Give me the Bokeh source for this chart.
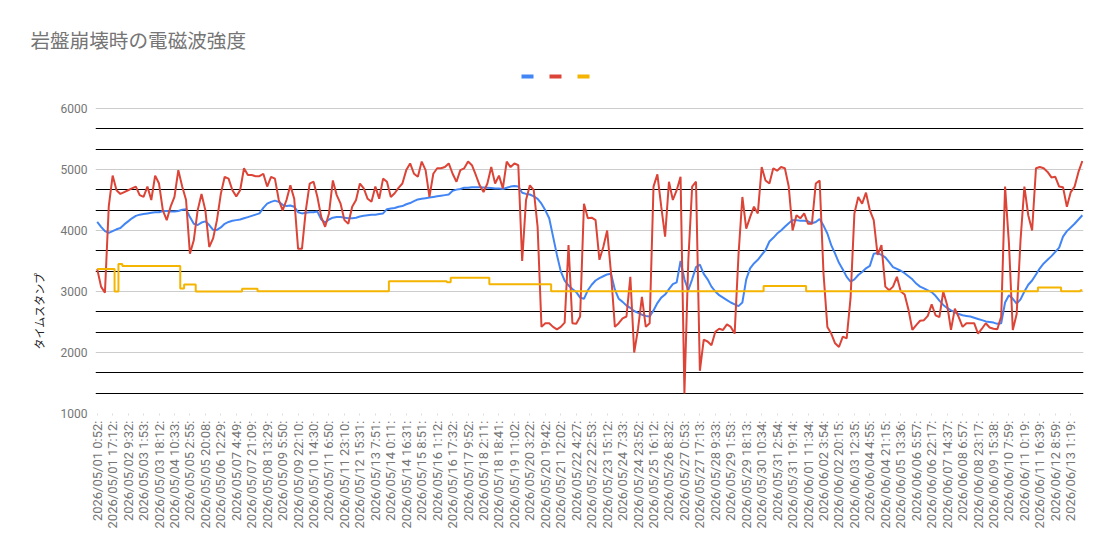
from math import pi
from bokeh.plotting import figure
from bokeh.models import Range1d, FixedTicker, Title
from bokeh.embed import file_html
from bokeh.resources import INLINE

title_text = "岩盤崩壊時の電磁波強度"
y_label_text = "タイムスタンプ"

tick_labels = [
    "2026/05/01 0:52:", "2026/05/01 17:12:", "2026/05/02 9:32:", "2026/05/03 1:53:",
    "2026/05/03 18:12:", "2026/05/04 10:33:", "2026/05/05 2:55:", "2026/05/05 20:08:",
    "2026/05/06 12:29:", "2026/05/07 4:49:", "2026/05/07 21:09:", "2026/05/08 13:29:",
    "2026/05/09 5:50:", "2026/05/09 22:10:", "2026/05/10 14:30:", "2026/05/11 6:50:",
    "2026/05/11 23:10:", "2026/05/12 15:31:", "2026/05/13 7:51:", "2026/05/14 0:11:",
    "2026/05/14 16:31:", "2026/05/15 8:51:", "2026/05/16 1:12:", "2026/05/16 17:32:",
    "2026/05/17 9:52:", "2026/05/18 2:11:", "2026/05/18 18:41:", "2026/05/19 11:02:",
    "2026/05/20 3:22:", "2026/05/20 19:42:", "2026/05/21 12:02:", "2026/05/22 4:27:",
    "2026/05/22 22:53:", "2026/05/23 15:12:", "2026/05/24 7:33:", "2026/05/24 23:52:",
    "2026/05/25 16:12:", "2026/05/26 8:32:", "2026/05/27 0:53:", "2026/05/27 17:13:",
    "2026/05/28 9:33:", "2026/05/29 1:53:", "2026/05/29 18:13:", "2026/05/30 10:34:",
    "2026/05/31 2:54:", "2026/05/31 19:14:", "2026/06/01 11:34:", "2026/06/02 3:54:",
    "2026/06/02 20:15:", "2026/06/03 12:35:", "2026/06/04 4:55:", "2026/06/04 21:15:",
    "2026/06/05 13:36:", "2026/06/06 5:57:", "2026/06/06 22:17:", "2026/06/07 14:37:",
    "2026/06/08 6:57:", "2026/06/08 23:17:", "2026/06/09 15:38:", "2026/06/10 7:59:",
    "2026/06/11 0:19:", "2026/06/11 16:39:", "2026/06/12 8:59:", "2026/06/13 1:19:",
]
samples_per_label = 4

blue_vals = [
    4140, 4060, 3990, 3960, 3990, 4020, 4040, 4100, 4150, 4200, 4240, 4260, 4270, 4280, 4290, 4300,
    4300, 4320, 4320, 4310, 4310, 4320, 4340, 4350, 4220, 4110, 4090, 4130, 4150, 4090, 4010, 4010,
    4050, 4110, 4140, 4160, 4170, 4180, 4200, 4220, 4240, 4260, 4280, 4370, 4440, 4470, 4490, 4470,
    4420, 4400, 4410, 4390, 4300, 4280, 4290, 4300, 4300, 4310, 4180, 4130, 4180, 4210, 4220, 4220,
    4210, 4200, 4200, 4210, 4230, 4240, 4250, 4260, 4260, 4270, 4280, 4350, 4360, 4370, 4390, 4400,
    4430, 4450, 4480, 4510, 4520, 4530, 4540, 4550, 4560, 4570, 4580, 4590, 4650, 4670, 4680, 4700,
    4700, 4710, 4710, 4710, 4705, 4700, 4695, 4690, 4690, 4680, 4700, 4720, 4730, 4720, 4620, 4600,
    4590, 4560, 4520, 4440, 4330, 4200, 3900, 3600, 3330, 3180, 3100, 3040, 2990, 2900, 2880, 3020,
    3110, 3180, 3220, 3250, 3280, 3290, 3030, 2880, 2830, 2770, 2730, 2680, 2650, 2620, 2600, 2590,
    2690, 2810, 2900, 2950, 3040, 3120, 3150, 3500, 3200, 3020, 3200, 3400, 3440, 3290, 3200, 3080,
    3000, 2940, 2900, 2860, 2820, 2790, 2760, 2820, 3200, 3380, 3460, 3520, 3600, 3680, 3820, 3880,
    3950, 4000, 4060, 4120, 4170, 4170, 4160, 4160, 4150, 4120, 4140, 4190, 4080, 3950, 3760, 3620,
    3470, 3360, 3240, 3160, 3200, 3270, 3320, 3380, 3420, 3620, 3630, 3600, 3560, 3480, 3400, 3370,
    3340, 3300, 3250, 3200, 3130, 3080, 3050, 3020, 2990, 2930, 2850, 2780, 2730, 2690, 2660, 2630,
    2610, 2600, 2590, 2570, 2550, 2530, 2510, 2500, 2490, 2470, 2480, 2820, 2940, 2880, 2800, 2870,
    3000, 3110, 3180, 3280, 3380, 3460, 3520, 3580, 3650, 3720, 3900, 3990, 4050, 4110, 4180, 4250,
]

red_vals = [
    3370, 3080, 2980, 4400, 4900, 4660, 4600, 4630, 4660, 4690, 4720, 4580, 4550, 4720, 4500, 4900,
    4770, 4330, 4170, 4390, 4550, 4990, 4720, 4500, 3620, 3840, 4330, 4600, 4330, 3730, 3870, 4170,
    4600, 4880, 4850, 4660, 4560, 4660, 5020, 4910, 4910, 4890, 4890, 4930, 4720, 4880, 4850, 4500,
    4330, 4500, 4740, 4520, 3700, 3700, 4330, 4770, 4800, 4550, 4220, 4060, 4280, 4820, 4580, 4440,
    4170, 4110, 4390, 4500, 4770, 4690, 4520, 4470, 4720, 4520, 4850, 4800, 4550, 4610, 4700, 4770,
    4990, 5100, 4930, 4880, 5130, 4990, 4550, 4930, 5020, 5020, 5040, 5100, 4930, 4800, 4990, 5020,
    5130, 5070, 4910, 4740, 4630, 4770, 5040, 4770, 4900, 4690, 5130, 5040, 5100, 5070, 3500, 4500,
    4740, 4660, 4060, 2420, 2480, 2480, 2420, 2380, 2420, 2490, 3760, 2480, 2470, 2590, 4440, 4200,
    4210, 4170, 3520, 3730, 4000, 3300, 2420, 2480, 2560, 2590, 3240, 2000, 2390, 2910, 2420, 2480,
    4720, 4920, 4390, 3900, 4800, 4500, 4660, 4880, 1330, 3500, 4720, 4800, 1700, 2210, 2180, 2120,
    2340, 2390, 2370, 2460, 2420, 2310, 3600, 4550, 4030, 4220, 4390, 4280, 5040, 4820, 4770, 5020,
    4980, 5040, 5020, 4720, 4000, 4250, 4200, 4280, 4110, 4110, 4770, 4820, 3300, 2420, 2310, 2150,
    2090, 2260, 2230, 2890, 4280, 4550, 4440, 4620, 4330, 4170, 3600, 3760, 3080, 3020, 3080, 3240,
    3000, 2950, 2700, 2370, 2450, 2520, 2530, 2600, 2790, 2610, 2580, 3000, 2780, 2370, 2720, 2580,
    2420, 2480, 2480, 2480, 2310, 2390, 2480, 2410, 2390, 2380, 2590, 4720, 3790, 2370, 2630, 3840,
    4720, 4250, 4000, 5020, 5040, 5020, 4960, 4870, 4880, 4720, 4710, 4390, 4630, 4720, 4960, 5140,
]

yellow_vals = [
    3367, 3367, 3367, 3367, 3367, 3000, 3450, 3420, 3420, 3420, 3420, 3420, 3420, 3420, 3420, 3420,
    3420, 3420, 3420, 3420, 3420, 3420, 3050, 3115, 3115, 3115, 3000, 3000, 3000, 3000, 3000, 3000,
    3000, 3000, 3000, 3000, 3000, 3000, 3045, 3045, 3045, 3045, 3005, 3005, 3005, 3005, 3005, 3005,
    3005, 3005, 3005, 3005, 3005, 3005, 3005, 3005, 3005, 3005, 3005, 3005, 3005, 3005, 3005, 3005,
    3005, 3005, 3005, 3005, 3005, 3005, 3005, 3005, 3005, 3005, 3005, 3005, 3170, 3170, 3170, 3170,
    3170, 3170, 3170, 3170, 3170, 3170, 3170, 3170, 3170, 3170, 3170, 3150, 3225, 3225, 3225, 3225,
    3225, 3225, 3225, 3225, 3225, 3225, 3120, 3120, 3120, 3120, 3120, 3120, 3120, 3120, 3120, 3120,
    3120, 3120, 3120, 3120, 3120, 3120, 3005, 3005, 3005, 3005, 3005, 3005, 3005, 3005, 3005, 3005,
    3005, 3005, 3005, 3005, 3005, 3005, 3005, 3005, 3005, 3005, 3005, 3005, 3005, 3005, 3005, 3005,
    3005, 3005, 3005, 3005, 3005, 3005, 3005, 3005, 3005, 3005, 3005, 3005, 3005, 3005, 3005, 3005,
    3005, 3005, 3005, 3005, 3005, 3005, 3005, 3005, 3005, 3005, 3005, 3005, 3005, 3090, 3090, 3090,
    3090, 3090, 3090, 3090, 3090, 3090, 3090, 3090, 3005, 3005, 3005, 3005, 3005, 3005, 3005, 3005,
    3005, 3005, 3005, 3005, 3005, 3005, 3005, 3005, 3005, 3005, 3005, 3005, 3005, 3005, 3005, 3005,
    3005, 3005, 3005, 3005, 3005, 3005, 3005, 3005, 3005, 3005, 3005, 3005, 3005, 3005, 3005, 3005,
    3005, 3005, 3005, 3005, 3005, 3005, 3005, 3005, 3005, 3005, 3005, 3005, 3005, 3005, 3005, 3005,
    3005, 3005, 3005, 3005, 3065, 3065, 3065, 3065, 3065, 3065, 3005, 3005, 3005, 3005, 3005, 3020,
]

y_major = [1000, 2000, 3000, 4000, 5000, 6000]
y_minor = [1333.33, 1666.67, 2333.33, 2666.67, 3333.33, 3666.67,
           4333.33, 4666.67, 5333.33, 5666.67]

BLUE, RED, YELLOW = "#4285F4", "#DB4437", "#F4B400"
series_colors = [BLUE, RED, YELLOW]
GRAY_TXT = "#757575"
JP_FONT = "Noto Sans CJK JP"

n = len(red_vals)
xs = list(range(n))

# layout (screen pixels): frame x 95..1083, y 60..413; 6000 sits at y=108,
# the strip above it holds the (label-less) legend keys
FRAME_LEFT, FRAME_RIGHT = 95, 1083
FRAME_TOP, FRAME_BOTTOM, Y6000 = 60, 413, 108
X_START, X_END = -0.44, 255.3
units_per_px = (6000 - 1000) / (FRAME_BOTTOM - Y6000)
y_end = 6000 + (Y6000 - FRAME_TOP) * units_per_px

p = figure(width=1103, height=545, output_backend="svg", toolbar_location=None,
           x_range=Range1d(X_START, X_END), y_range=Range1d(1000, y_end),
           min_border_left=FRAME_LEFT, min_border_right=20, min_border_top=FRAME_TOP,
           min_border_bottom=132)
p.outline_line_color = None
p.background_fill_color = "white"
p.border_fill_color = "white"

r_blue = p.line(xs, blue_vals, line_color=BLUE, line_width=2)
r_red = p.line(xs, red_vals, line_color=RED, line_width=2)
r_yel = p.step(xs, yellow_vals, mode="center", line_color=YELLOW, line_width=2)

# grid
p.xgrid.visible = False
p.ygrid.ticker = FixedTicker(ticks=y_major, minor_ticks=y_minor)
p.ygrid.grid_line_color = "#cccccc"
p.ygrid.grid_line_width = 1
p.ygrid.minor_grid_line_color = "black"
p.ygrid.minor_grid_line_width = 1

# y axis
p.yaxis.ticker = FixedTicker(ticks=y_major)
p.yaxis.axis_line_color = None
p.yaxis.major_tick_line_color = None
p.yaxis.major_tick_out = 0
p.yaxis.major_tick_in = 0
p.yaxis.minor_tick_line_color = None
p.yaxis.major_label_text_font = "Roboto"
p.yaxis.major_label_text_font_size = "12px"
p.yaxis.major_label_text_color = GRAY_TXT
p.yaxis.major_label_standoff = 8

# x axis
tick_pos = [i * samples_per_label for i in range(len(tick_labels))]
p.xaxis.ticker = FixedTicker(ticks=tick_pos)
p.xaxis.major_label_overrides = {t: s for t, s in zip(tick_pos, tick_labels)}
p.xaxis.major_label_orientation = pi / 2
p.xaxis.axis_line_color = None
p.xaxis.major_tick_line_color = "#dddddd"
p.xaxis.major_tick_in = 0
p.xaxis.major_tick_out = 2
p.xaxis.minor_tick_line_color = None
p.xaxis.major_label_text_font = "Roboto"
p.xaxis.major_label_text_font_size = "13px"
p.xaxis.major_label_text_color = GRAY_TXT
p.xaxis.major_label_standoff = 5

# chart title
p.title.text = title_text
p.title.align = "left"
p.title.offset = -65
p.title.text_font = JP_FONT
p.title.text_font_size = "19.6px"
p.title.text_font_style = "normal"
p.title.text_color = GRAY_TXT
p.title.standoff = 13

# vertical axis title
p.add_layout(Title(text=y_label_text, align="left", offset=64, text_font=JP_FONT,
                   text_font_size="11px", text_font_style="normal",
                   text_color="#222222", standoff=21), "left")

# legend keys (the series carry no names): small swatches centred above the plot
def px_to_x(px):
    return X_START + (px - FRAME_LEFT) * (X_END - X_START) / (FRAME_RIGHT - FRAME_LEFT)

def py_to_y(py):
    return y_end - (py - FRAME_TOP) * units_per_px

key_px = [527 + 28 * i for i in range(len(series_colors))]
p.rect(x=[px_to_x(v) for v in key_px], y=[py_to_y(76)] * len(series_colors),
       width=12, height=4, width_units="screen", height_units="screen",
       fill_color=series_colors, line_color=None)

open("out.html", "w").write(file_html(p, INLINE))
